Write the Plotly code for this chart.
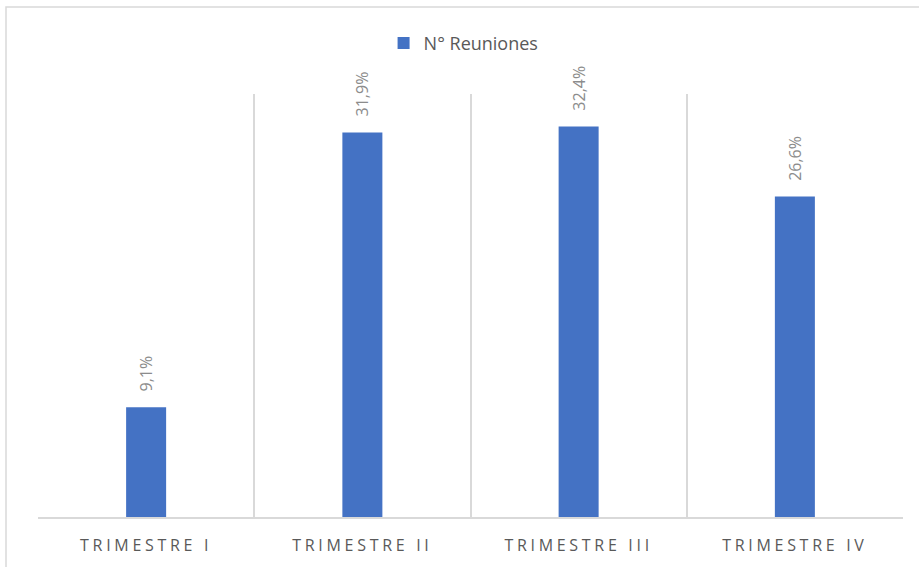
import plotly.graph_objects as go

# Quarterly share of meetings
categories = ["TRIMESTRE I", "TRIMESTRE II", "TRIMESTRE III", "TRIMESTRE IV"]
values = [9.1, 31.9, 32.4, 26.6]
series_name = "N° Reuniones"

labels = [f"{v:.1f}%".replace(".", ",") for v in values]

BAR_COLOR = "#4472C4"
GRID_COLOR = "#d9d9d9"
TEXT_COLOR = "#595959"
LABEL_COLOR = "#8c8c8c"
FONT = "Open Sans, Noto Sans, sans-serif"

fig = go.Figure()
fig.add_trace(go.Bar(
    x=categories,
    y=values,
    name=series_name,
    marker=dict(color=BAR_COLOR, line=dict(width=0)),
    showlegend=True,
))

# Value labels above each bar, rotated vertically
for cat, v, lab in zip(categories, values, labels):
    fig.add_annotation(
        x=cat, y=v, text=lab, textangle=-90,
        showarrow=False, xanchor="center", yanchor="bottom", yshift=14,
        font=dict(family=FONT, size=16, color=LABEL_COLOR),
    )

# Outer chart frame
fig.add_shape(
    type="rect", xref="paper", yref="paper",
    x0=-0.037, x1=1.03, y0=-0.2, y1=1.2057,
    line=dict(color=GRID_COLOR, width=1.5), fillcolor="rgba(0,0,0,0)",
    layer="below",
)

fig.update_layout(
    width=919, height=567,
    margin=dict(l=38, r=16, t=94, b=50),
    paper_bgcolor="white", plot_bgcolor="white",
    bargap=0.815,
    font=dict(family=FONT, color=TEXT_COLOR),
    legend=dict(
        orientation="h", x=0.492, xanchor="center", y=1.12, yanchor="middle",
        font=dict(family=FONT, size=18, color=TEXT_COLOR),
        itemwidth=30,
    ),
    xaxis=dict(
        type="category", tickson="boundaries",
        showgrid=True, gridcolor=GRID_COLOR, gridwidth=1.5,
        showline=True, linecolor=GRID_COLOR, linewidth=2,
        ticks="", ticklabelstandoff=13,
        tickfont=dict(family=FONT, size=16, color=TEXT_COLOR),
    ),
    yaxis=dict(
        range=[0, 35.1], showgrid=False, zeroline=False,
        showticklabels=False, showline=False, ticks="",
    ),
)

fig.write_html(
    "out.html",
    post_script="var s=document.createElement('style');"
                "s.textContent='.xtick text{letter-spacing:3.7px}';"
                "document.head.appendChild(s);",
)
